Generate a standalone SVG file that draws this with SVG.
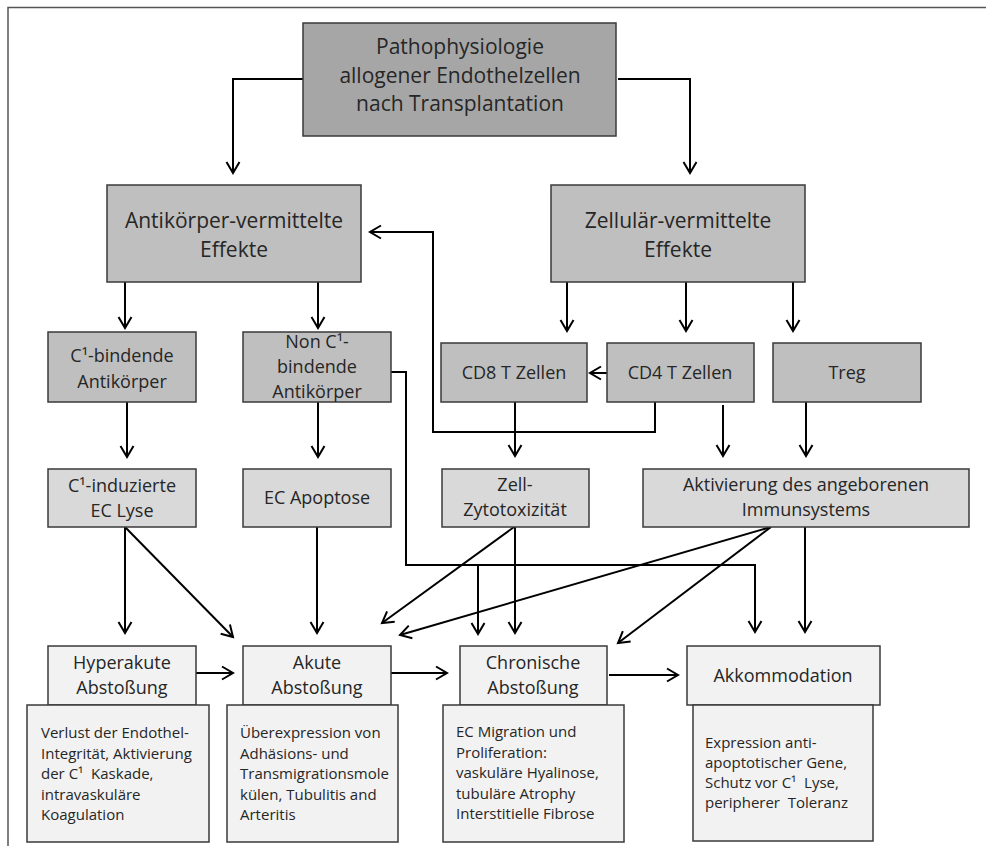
<svg xmlns="http://www.w3.org/2000/svg" width="986" height="846" viewBox="0 0 986 846">
<style>
.box{stroke:#3a3a3a;stroke-width:1.5}
.l0{fill:#a6a6a6}
.l1{fill:#bfbfbf}
.l3{fill:#d9d9d9}
.l4{fill:#f2f2f2}
text{font-family:"Open Sans","Noto Sans","Liberation Sans",sans-serif;fill:#262626}
.c{text-anchor:middle}
.t21{font-size:21px}
.t18{font-size:18px}
.t15{font-size:15px}
.ln{fill:none;stroke:#000;stroke-width:2;marker-end:url(#ah)}
.ln2{fill:none;stroke:#000;stroke-width:2}
</style>
<defs>
<marker id="ah" markerUnits="userSpaceOnUse" viewBox="-13 -8 15 16" markerWidth="15" markerHeight="16" refX="0" refY="0" orient="auto" overflow="visible">
<path d="M-11,-6.5 L0,0 L-11,6.5" fill="none" stroke="#000" stroke-width="2"/>
</marker>
</defs>
<rect width="986" height="846" fill="#fff"/>
<path d="M8,846 V7.5 H986" fill="none" stroke="#555" stroke-width="1.5"/>

<g id="connectors">
<path class="ln" d="M303,79 H233 V173"/>
<path class="ln" d="M618,79 H690 V173"/>
<path class="ln" d="M125,282 V328"/>
<path class="ln" d="M318,282 V328"/>
<path class="ln" d="M567,282 V331"/>
<path class="ln" d="M686,282 V331"/>
<path class="ln" d="M793,282 V331"/>
<path class="ln" d="M655,402 V432 H433 V232 H370"/>
<path class="ln" d="M607,373 H590"/>
<path class="ln" d="M127,402 V457"/>
<path class="ln" d="M318,402 V457"/>
<path class="ln" d="M515,402 V456"/>
<path class="ln" d="M723,405 V456"/>
<path class="ln" d="M806,402 V456"/>
<path class="ln" d="M391,372 H406 V565 H755 V632"/>
<path class="ln" d="M478,565 V634"/>
<path class="ln" d="M125,527 V633"/>
<path class="ln" d="M125,527 L233,637"/>
<path class="ln" d="M317,527 V633"/>
<path class="ln" d="M514,527 L382,623"/>
<path class="ln" d="M515,527 V633"/>
<path class="ln" d="M771,527 L400,635"/>
<path class="ln" d="M771,527 L618,643"/>
<path class="ln" d="M805,527 V632"/>
<path class="ln" d="M196,673 H233"/>
<path class="ln" d="M391,673 H447"/>
<path class="ln" d="M609,675 H678"/>
</g>

<g id="n-patho">
<rect class="box l0" x="303" y="23" width="313" height="113"/>
<text class="c t21" x="460" y="54">Pathophysiologie</text>
<text class="c t21" x="460" y="83">allogener Endothelzellen</text>
<text class="c t21" x="460" y="111">nach Transplantation</text>
</g>

<g id="n-antikoerper">
<rect class="box l1" x="107" y="185" width="254" height="97"/>
<text class="c t21" x="234" y="228">Antikörper-vermittelte</text>
<text class="c t21" x="234" y="257">Effekte</text>
</g>

<g id="n-zellulaer">
<rect class="box l1" x="551" y="185" width="254" height="97"/>
<text class="c t21" x="678" y="228">Zellulär-vermittelte</text>
<text class="c t21" x="678" y="257">Effekte</text>
</g>

<g id="n-c1bind">
<rect class="box l1" x="48" y="332" width="148" height="70"/>
<text class="c t18" x="122" y="362">C¹-bindende</text>
<text class="c t18" x="122" y="388">Antikörper</text>
</g>

<g id="n-nonc1">
<rect class="box l1" x="243" y="332" width="148" height="70"/>
<text class="c t18" x="317" y="348">Non C¹-</text>
<text class="c t18" x="317" y="373">bindende</text>
<text class="c t18" x="317" y="398">Antikörper</text>
</g>

<g id="n-cd8">
<rect class="box l1" x="441" y="343" width="146" height="59"/>
<text class="c t18" x="514" y="379">CD8 T Zellen</text>
</g>

<g id="n-cd4">
<rect class="box l1" x="607" y="343" width="147" height="59"/>
<text class="c t18" x="680" y="379">CD4 T Zellen</text>
</g>

<g id="n-treg">
<rect class="box l1" x="773" y="343" width="148" height="59"/>
<text class="c t18" x="847" y="379">Treg</text>
</g>

<g id="n-c1lyse">
<rect class="box l3" x="48" y="469" width="148" height="58"/>
<text class="c t18" x="122" y="492">C¹-induzierte</text>
<text class="c t18" x="122" y="517">EC Lyse</text>
</g>

<g id="n-apoptose">
<rect class="box l3" x="243" y="469" width="148" height="58"/>
<text class="c t18" x="317" y="504">EC Apoptose</text>
</g>

<g id="n-zyto">
<rect class="box l3" x="442" y="469" width="147" height="58"/>
<text class="c t18" x="515" y="491">Zell-</text>
<text class="c t18" x="515" y="516">Zytotoxizität</text>
</g>

<g id="n-aktivierung">
<rect class="box l3" x="643" y="469" width="326" height="58"/>
<text class="c t18" x="806" y="491">Aktivierung des angeborenen</text>
<text class="c t18" x="806" y="516">Immunsystems</text>
</g>

<g id="n-hyperakut">
<rect class="box l4" x="48" y="646" width="148" height="59"/>
<text class="c t18" x="122" y="669">Hyperakute</text>
<text class="c t18" x="122" y="694">Abstoßung</text>
<rect class="box l4" x="27" y="705" width="182" height="137"/>
<text class="t15" x="41" y="738">Verlust der Endothel-</text>
<text class="t15" x="41" y="758.5">Integrität, Aktivierung</text>
<text class="t15" x="41" y="779" xml:space="preserve">der C¹  Kaskade,</text>
<text class="t15" x="41" y="799.5">intravaskuläre</text>
<text class="t15" x="41" y="820">Koagulation</text>
</g>

<g id="n-akut">
<rect class="box l4" x="243" y="646" width="148" height="59"/>
<text class="c t18" x="317" y="669">Akute</text>
<text class="c t18" x="317" y="694">Abstoßung</text>
<rect class="box l4" x="227" y="705" width="171" height="137"/>
<text class="t15" x="240" y="738">Überexpression von</text>
<text class="t15" x="240" y="758.5">Adhäsions- und</text>
<text class="t15" x="240" y="779">Transmigrationsmole</text>
<text class="t15" x="240" y="799.5">külen, Tubulitis and</text>
<text class="t15" x="240" y="820">Arteritis</text>
</g>

<g id="n-chronisch">
<rect class="box l4" x="460" y="646" width="147" height="59"/>
<text class="c t18" x="533" y="669">Chronische</text>
<text class="c t18" x="533" y="694">Abstoßung</text>
<rect class="box l4" x="443" y="705" width="181" height="137"/>
<text class="t15" x="456" y="737">EC Migration und</text>
<text class="t15" x="456" y="757.5">Proliferation:</text>
<text class="t15" x="456" y="778">vaskuläre Hyalinose,</text>
<text class="t15" x="456" y="798.5">tubuläre Atrophy</text>
<text class="t15" x="456" y="819">Interstitielle Fibrose</text>
</g>

<g id="n-akkommodation">
<rect class="box l4" x="687" y="646" width="193" height="59"/>
<text class="c t18" x="783" y="682">Akkommodation</text>
<rect class="box l4" x="693" y="705" width="180" height="136"/>
<text class="t15" x="705" y="748">Expression anti-</text>
<text class="t15" x="705" y="768">apoptotischer Gene,</text>
<text class="t15" x="705" y="788" xml:space="preserve">Schutz vor C¹  Lyse,</text>
<text class="t15" x="705" y="808" xml:space="preserve">peripherer  Toleranz</text>
</g>
</svg>
